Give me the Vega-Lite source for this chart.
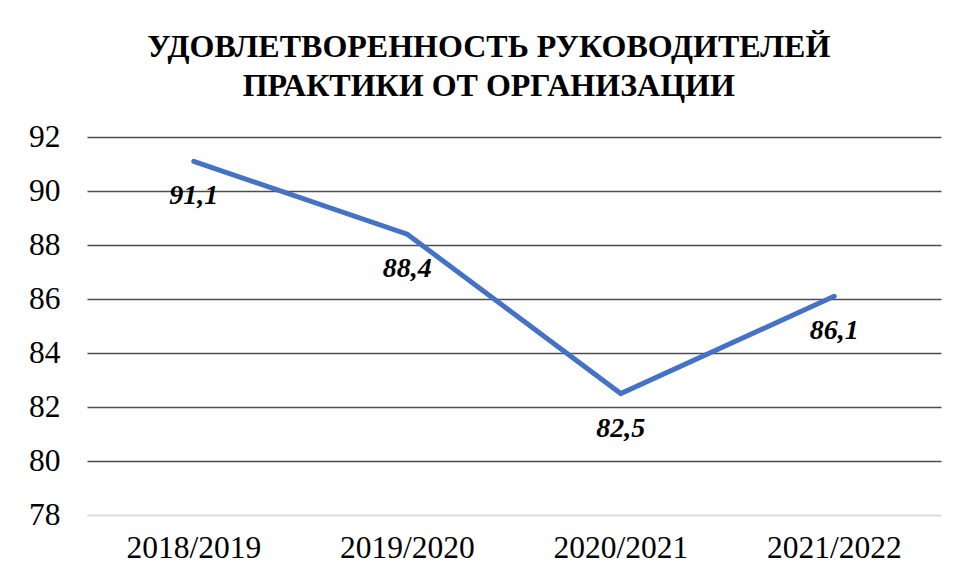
{
  "$schema": "https://vega.github.io/schema/vega-lite/v6.json",
  "width": 854,
  "height": 378,
  "padding": {"left": 28, "top": 31, "right": 14, "bottom": 10},
  "background": "white",
  "title": {
    "text": ["УДОВЛЕТВОРЕННОСТЬ РУКОВОДИТЕЛЕЙ", "ПРАКТИКИ ОТ ОРГАНИЗАЦИИ"],
    "font": "Liberation Serif",
    "fontSize": 32,
    "fontWeight": "bold",
    "color": "#000000",
    "lineHeight": 39,
    "anchor": "middle",
    "frame": "bounds",
    "dx": 4,
    "offset": 18
  },
  "data": {
    "values": [
      {"year": "2018/2019", "value": 91.1, "label": "91,1"},
      {"year": "2019/2020", "value": 88.4, "label": "88,4"},
      {"year": "2020/2021", "value": 82.5, "label": "82,5"},
      {"year": "2021/2022", "value": 86.1, "label": "86,1"}
    ]
  },
  "encoding": {
    "x": {
      "field": "year",
      "type": "ordinal",
      "sort": null,
      "scale": {"type": "band", "paddingInner": 0, "paddingOuter": 0},
      "axis": {
        "title": null,
        "labelAngle": 0,
        "labelFont": "Liberation Serif",
        "labelFontSize": 31.5,
        "labelColor": "#000000",
        "labelPadding": 17,
        "ticks": false,
        "domain": true,
        "domainColor": "#d9d9d9",
        "domainWidth": 1.5,
        "grid": false
      }
    },
    "y": {
      "field": "value",
      "type": "quantitative",
      "scale": {"domain": [78, 92], "nice": false, "zero": false},
      "axis": {
        "title": null,
        "values": [78, 80, 82, 84, 86, 88, 90, 92],
        "labelFont": "Liberation Serif",
        "labelFontSize": 31.5,
        "labelColor": "#000000",
        "labelPadding": 27,
        "ticks": false,
        "domain": false,
        "grid": true,
        "gridColor": {"condition": {"test": "datum.value === 78", "value": "#d9d9d9"}, "value": "#4d4d4d"},
        "gridWidth": 1.5
      }
    }
  },
  "layer": [
    {
      "mark": {"type": "line", "color": "#4472C4", "strokeWidth": 5, "strokeCap": "round", "strokeJoin": "miter"}
    },
    {
      "mark": {
        "type": "text",
        "font": "Liberation Serif",
        "fontSize": 28,
        "fontWeight": "bold",
        "fontStyle": "italic",
        "color": "#000000",
        "dy": 35
      },
      "encoding": {"text": {"field": "label"}}
    }
  ],
  "config": {"view": {"stroke": null}}
}
